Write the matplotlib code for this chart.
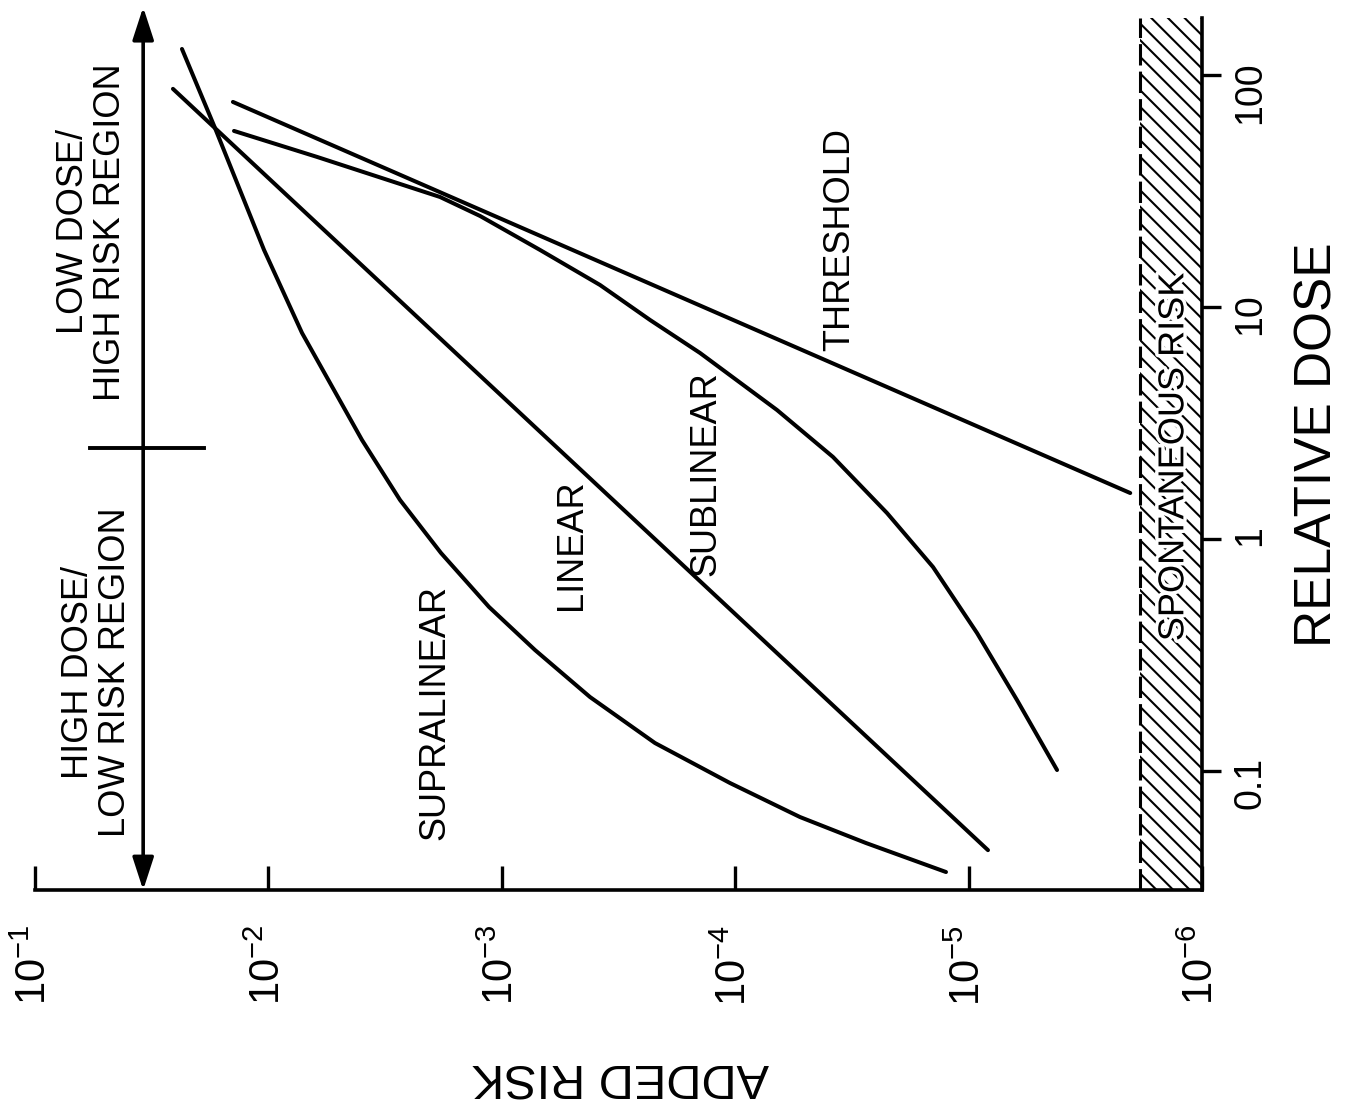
import matplotlib
matplotlib.use("Agg")
import matplotlib.pyplot as plt
import matplotlib.patheffects as pe

plt.rcParams['font.family'] = ['Liberation Sans', 'DejaVu Sans']
plt.rcParams['mathtext.fontset'] = 'custom'
plt.rcParams['mathtext.rm'] = 'Liberation Sans'
plt.rcParams['mathtext.default'] = 'regular'
plt.rcParams['hatch.linewidth'] = 1.5

# dose-response curves (added risk vs relative dose)
supra_risk = [0.02346, 0.01694, 0.01044, 0.007178, 0.003972, 0.002730, 0.001822,
              0.001134, 7.207e-4, 4.189e-4, 2.206e-4, 1.053e-4, 5.278e-5,
              2.752e-5, 1.250e-5]
supra_dose = [129.4, 59.1, 17.61, 7.727, 2.671, 1.473, 0.8703,
              0.5092, 0.3323, 0.2084, 0.1320, 0.08878, 0.06334,
              0.04894, 0.03670]

linear_risk = [0.02564, 8.26e-6]
linear_dose = [87.1, 0.0456]

sub_risk = [0.01404, 0.006189, 0.001840, 0.001240, 6.859e-4, 3.796e-4, 2.317e-4,
            1.415e-4, 6.621e-5, 3.811e-5, 2.237e-5, 1.421e-5, 9.204e-6,
            6.204e-6, 4.179e-6]
sub_dose = [57.37, 44.33, 29.79, 24.68, 17.61, 12.44, 8.790,
            6.335, 3.597, 2.257, 1.294, 0.7574, 0.3934,
            0.2023, 0.1010]

thresh_risk = [0.01419, 2.03e-6]
thresh_dose = [76.5, 1.578]

risk_ticks = [1e-1, 1e-2, 1e-3, 1e-4, 1e-5, 1e-6]
risk_labels = ['$10^{-1}$', '$10^{-2}$', '$10^{-3}$', '$10^{-4}$', '$10^{-5}$', '$10^{-6}$']
dose_ticks = [0.1, 1, 10, 100]
dose_labels = ['0.1', '1', '10', '100']

spont_risk = 1.85e-6  # upper edge of spontaneous-risk band

fig = plt.figure(figsize=(13.63, 11.03), dpi=100)
ax = fig.add_axes([0.02568, 0.1931, 0.8562, 0.7906])

ax.set_xscale('log')
ax.set_yscale('log')
ax.set_xlim(1e-1, 1e-6)
ax.set_ylim(0.0307, 176)

for s in ['left', 'top']:
    ax.spines[s].set_visible(False)
for s in ['bottom', 'right']:
    ax.spines[s].set_linewidth(2.6)

ax.yaxis.tick_right()
ax.set_xticks(risk_ticks)
ax.set_xticklabels(risk_labels)
ax.set_yticks(dose_ticks)
ax.set_yticklabels(dose_labels)
ax.minorticks_off()
ax.tick_params(axis='x', direction='in', length=17, width=2.4, pad=25,
               labelsize=30, labelrotation=90)
ax.tick_params(axis='y', direction='out', length=14, width=2.4, pad=8,
               labelsize=27, labelrotation=90)

# curves
line_kw = dict(color='black', lw=2.9, solid_capstyle='round', solid_joinstyle='round')
ax.plot(supra_risk, supra_dose, **line_kw)
ax.plot(linear_risk, linear_dose, **line_kw)
ax.plot(sub_risk, sub_dose, **line_kw)
ax.plot(thresh_risk, thresh_dose, **line_kw)

# spontaneous risk band
ax.axvspan(1e-6, spont_risk, facecolor='white', edgecolor='black',
           hatch='\\\\', lw=0, zorder=1)
ax.axvline(spont_risk, color='black', lw=2.2, linestyle=(0, (7, 2)))
ax.text(1.32e-6, 2.26, 'SPONTANEOUS RISK', rotation=90, ha='center', va='center',
        fontsize=26, zorder=3,
        path_effects=[pe.withStroke(linewidth=5, foreground='white')])

# curve labels
lab = dict(rotation=90, ha='center', va='center', fontsize=26)
ax.text(1.93e-3, 0.1796, 'SUPRALINEAR', **lab)
ax.text(5.05e-4, 0.942, 'LINEAR', **lab)
ax.text(1.33e-4, 1.92, 'SUBLINEAR', **lab)
ax.text(3.56e-5, 19.6, 'THRESHOLD', **lab)

# region arrow
ax.annotate('', xy=(0.0344, 196), xytext=(0.0344, 0.0307),
            arrowprops=dict(arrowstyle='<|-|>,head_length=2.0,head_width=0.65',
                            lw=2.6, color='black', shrinkA=0, shrinkB=0,
                            clip_on=False),
            annotation_clip=False)
ax.plot([0.0581, 0.01888], [2.47, 2.47], color='black', lw=2.8, clip_on=False)
ax.text(0.057, 21.1, 'LOW DOSE/\nHIGH RISK REGION', rotation=90, ha='center',
        va='center', multialignment='center', fontsize=26, linespacing=1.1)
ax.text(0.0542, 0.267, 'HIGH DOSE/\nLOW RISK REGION', rotation=90, ha='center',
        va='center', multialignment='center', fontsize=26, linespacing=1.1)

# axis titles
fig.text(1318 / 1363, 1 - 445 / 1103, 'RELATIVE DOSE', rotation=90,
         ha='center', va='center', fontsize=37)
fig.text(620 / 1363, 1 - 1077 / 1103, 'ADDED RISK', rotation=180,
         ha='center', va='center', fontsize=35)

fig.savefig('out.png', dpi=100)
